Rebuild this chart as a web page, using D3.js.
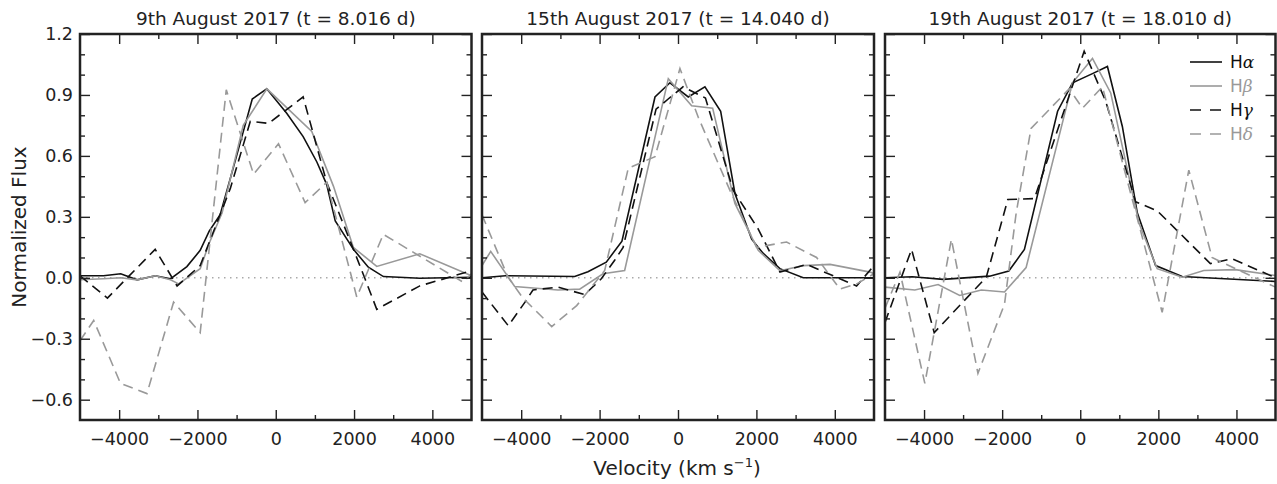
<!DOCTYPE html>
<html>
<head>
<meta charset="utf-8">
<script src="https://cdn.jsdelivr.net/npm/d3@7"></script>
<style>
  body { margin: 0; background: #fff; }
  text { font-family: "DejaVu Sans", sans-serif; fill: #222; }
</style>
</head>
<body>
<svg id="chart" width="1277" height="484"></svg>
<script>
// [velocity km/s, normalized flux]
var aug09_Ha = [[-5000,0.01],[-4400,0.01],[-3960,0.02],[-3540,-0.01],[-3080,0.01],[-2690,-0.005],[-2270,0.055],[-1930,0.135],[-1700,0.23],[-1420,0.31],[-1000,0.6],[-600,0.88],[-230,0.93],[280,0.81],[700,0.695],[1050,0.57],[1300,0.46],[1520,0.28],[1985,0.14],[2365,0.052],[2750,0.006],[3680,-0.002],[5000,0.003]];
var aug09_Hb = [[-5000,-0.01],[-4400,-0.005],[-3960,0.0],[-3540,-0.01],[-3080,0.01],[-2690,-0.01],[-2480,-0.03],[-1930,0.045],[-1700,0.17],[-1370,0.32],[-830,0.75],[-226,0.93],[920,0.72],[1475,0.45],[1980,0.15],[2580,0.056],[3680,0.118],[5000,0.01]];
var aug09_Hg = [[-5000,0.01],[-4300,-0.10],[-3080,0.14],[-2520,-0.04],[-1930,0.06],[-1160,0.44],[-650,0.77],[-185,0.76],[700,0.89],[1300,0.47],[1985,0.14],[2280,-0.005],[2580,-0.155],[3680,-0.04],[4875,0.028],[5000,0.0]];
var aug09_Hd = [[-5000,-0.31],[-4650,-0.21],[-3965,-0.52],[-3290,-0.57],[-2610,-0.12],[-1930,-0.27],[-1264,0.925],[-567,0.51],[70,0.66],[750,0.37],[1304,0.47],[2070,-0.095],[2748,0.214],[4790,-0.022],[5000,0.02]];

var aug15_Ha = [[-5000,0.0],[-4400,0.01],[-2636,0.006],[-2297,0.03],[-1830,0.077],[-1430,0.18],[-587,0.89],[-205,0.96],[262,0.89],[687,0.94],[1088,0.82],[1452,0.415],[1879,0.19],[2175,0.12],[2600,0.045],[3195,0.0],[5000,0.0]];
var aug15_Hb = [[-5000,0.06],[-4778,0.13],[-4166,-0.043],[-3062,-0.06],[-2508,-0.056],[-1914,0.02],[-1361,0.036],[-247,0.98],[348,0.847],[884,0.835],[1452,0.366],[2047,0.135],[2600,0.035],[3195,0.06],[3880,0.066],[4900,0.028],[5000,0.02]];
var aug15_Hg = [[-5000,-0.07],[-4329,-0.236],[-3903,-0.12],[-3700,-0.06],[-3062,-0.046],[-2381,-0.083],[-1957,-0.005],[-1616,0.086],[-1400,0.15],[-560,0.83],[-250,0.88],[130,0.94],[700,0.885],[1410,0.43],[2047,0.24],[2600,0.028],[3281,0.066],[4556,-0.04],[5000,0.06]];
var aug15_Hd = [[-5000,0.31],[-4336,0.003],[-3954,-0.10],[-3222,-0.24],[-2585,-0.137],[-1870,0.036],[-1268,0.54],[-587,0.596],[50,1.03],[517,0.79],[1325,0.43],[2005,0.15],[2770,0.176],[3535,0.10],[4130,-0.055],[4560,-0.03],[5000,0.02]];

var aug19_Ha = [[-5000,0.0],[-4300,0.005],[-3513,-0.008],[-2322,0.008],[-1830,0.033],[-1430,0.14],[-580,0.82],[-197,0.96],[313,1.005],[696,1.04],[1078,0.745],[1461,0.32],[1930,0.06],[2610,0.006],[5000,-0.018]];
var aug19_Hb = [[-5000,-0.046],[-4235,-0.06],[-3640,-0.033],[-3087,-0.087],[-2534,-0.06],[-1940,-0.07],[-1387,0.05],[-200,0.96],[313,1.08],[780,0.91],[1503,0.27],[1970,0.045],[2610,0.003],[3163,0.036],[3970,0.04],[5000,0.011]];
var aug19_Hg = [[-5000,-0.22],[-4320,0.14],[-3740,-0.27],[-2406,0.003],[-1855,0.385],[-1174,0.39],[100,1.115],[650,0.87],[1418,0.374],[1970,0.33],[3332,0.07],[3885,0.094],[5000,0.0]];
var aug19_Hd = [[-5000,-0.15],[-4617,0.028],[-3980,-0.52],[-3300,0.19],[-2620,-0.47],[-1940,-0.13],[-1640,0.32],[-1260,0.735],[-282,0.93],[58,0.835],[568,0.94],[2098,-0.17],[2780,0.53],[3375,0.10],[3970,0.045],[5000,-0.046]];

var titles = ["9th August 2017 (t = 8.016 d)", "15th August 2017 (t = 14.040 d)", "19th August 2017 (t = 18.010 d)"];
var lineNames = ["α", "β", "γ", "δ"];
var xMajor = [-4000, -2000, 0, 2000, 4000];
var xMinor = [-3000, -1000, 1000, 3000];
var yMajor = [-0.6, -0.3, 0.0, 0.3, 0.6, 0.9, 1.2];
var yMinor = [-0.5, -0.4, -0.2, -0.1, 0.1, 0.2, 0.4, 0.5, 0.7, 0.8, 1.0, 1.1];

var panels = [
  { title: titles[0], series: [aug09_Ha, aug09_Hb, aug09_Hg, aug09_Hd], left: 80,  right: 471.5 },
  { title: titles[1], series: [aug15_Ha, aug15_Hb, aug15_Hg, aug15_Hd], left: 482, right: 874 },
  { title: titles[2], series: [aug19_Ha, aug19_Hb, aug19_Hg, aug19_Hd], left: 885, right: 1275.5 }
];
var styles = [
  { color: "#111", dash: null },
  { color: "#999", dash: null },
  { color: "#111", dash: "10,6" },
  { color: "#999", dash: "10,6" }
];

var plotTop = 34, plotBottom = 420;
var svg = d3.select("#chart");

var y = d3.scaleLinear().domain([-0.7, 1.2]).range([plotBottom, plotTop]);

panels.forEach(function(p, pi) {
  var x = d3.scaleLinear().domain([-5000, 5000]).range([p.left, p.right]);
  var g = svg.append("g");

  var clipId = "clip" + pi;
  g.append("clipPath").attr("id", clipId)
    .append("rect")
    .attr("x", p.left).attr("y", plotTop)
    .attr("width", p.right - p.left).attr("height", plotBottom - plotTop);

  // zero line
  g.append("line")
    .attr("x1", p.left).attr("x2", p.right)
    .attr("y1", y(0)).attr("y2", y(0))
    .attr("stroke", "#aaa").attr("stroke-width", 1.5)
    .attr("stroke-dasharray", "1.5,4.5");

  var line = d3.line()
    .x(function(d) { return x(d[0]); })
    .y(function(d) { return y(d[1]); });

  p.series.forEach(function(s, si) {
    g.append("path")
      .datum(s)
      .attr("d", line)
      .attr("clip-path", "url(#" + clipId + ")")
      .attr("fill", "none")
      .attr("stroke", styles[si].color)
      .attr("stroke-width", 1.6)
      .attr("stroke-dasharray", styles[si].dash);
  });

  // ticks, all pointing inward
  function ticks(axis, vals, size, tx, ty, labels) {
    var a = axis.tickValues(vals).tickSize(-size).tickSizeOuter(0);
    if (!labels) a.tickFormat("");
    var ag = g.append("g").attr("transform", "translate(" + tx + "," + ty + ")").call(a);
    ag.select(".domain").remove();
    ag.selectAll("line").attr("stroke", "#222").attr("stroke-width", 1.4);
    return ag;
  }

  var bx = ticks(d3.axisBottom(x).tickFormat(d3.format("d")), xMajor, 10, 0, plotBottom, true);
  bx.selectAll("text").attr("font-size", 17.5).attr("y", 13);
  ticks(d3.axisBottom(x), xMinor, 5, 0, plotBottom, false);
  ticks(d3.axisTop(x), xMajor, 10, 0, plotTop, false);
  ticks(d3.axisTop(x), xMinor, 5, 0, plotTop, false);

  var ly = ticks(d3.axisLeft(y).tickFormat(d3.format(".1f")), yMajor, 10, p.left, 0, pi === 0);
  ly.selectAll("text").attr("font-size", 17.5).attr("x", -7);
  ticks(d3.axisLeft(y), yMinor, 5, p.left, 0, false);
  ticks(d3.axisRight(y), yMajor, 10, p.right, 0, false);
  ticks(d3.axisRight(y), yMinor, 5, p.right, 0, false);

  // frame
  g.append("rect")
    .attr("x", p.left).attr("y", plotTop)
    .attr("width", p.right - p.left).attr("height", plotBottom - plotTop)
    .attr("fill", "none").attr("stroke", "#222").attr("stroke-width", 2.5);

  g.append("text")
    .attr("x", (p.left + p.right) / 2).attr("y", 25)
    .attr("text-anchor", "middle").attr("font-size", 18.5)
    .text(p.title);

  // legend only in last panel
  if (pi === 2) {
    styles.forEach(function(st, i) {
      var ly0 = 62 + i * 24;
      g.append("line")
        .attr("x1", 1190).attr("x2", 1222).attr("y1", ly0).attr("y2", ly0)
        .attr("stroke", st.color).attr("stroke-width", 1.6)
        .attr("stroke-dasharray", st.dash ? "11,9" : null);
      var t = g.append("text")
        .attr("x", 1230).attr("y", ly0 + 6)
        .attr("font-size", 17)
        .style("fill", st.color);
      t.append("tspan").text("H");
      t.append("tspan")
        .attr("font-family", "'DejaVu Serif', serif").attr("font-style", "italic")
        .text(lineNames[i]);
    });
  }
});

// axis labels
var xl = svg.append("text")
  .attr("x", 677).attr("y", 475)
  .attr("text-anchor", "middle").attr("font-size", 20);
xl.append("tspan").text("Velocity (km s");
xl.append("tspan").attr("font-size", 13).attr("dy", -8).text("−1");
xl.append("tspan").attr("dy", 8).text(")");

svg.append("text")
  .attr("transform", "translate(26,227) rotate(-90)")
  .attr("text-anchor", "middle").attr("font-size", 20)
  .text("Normalized Flux");
</script>
</body>
</html>
